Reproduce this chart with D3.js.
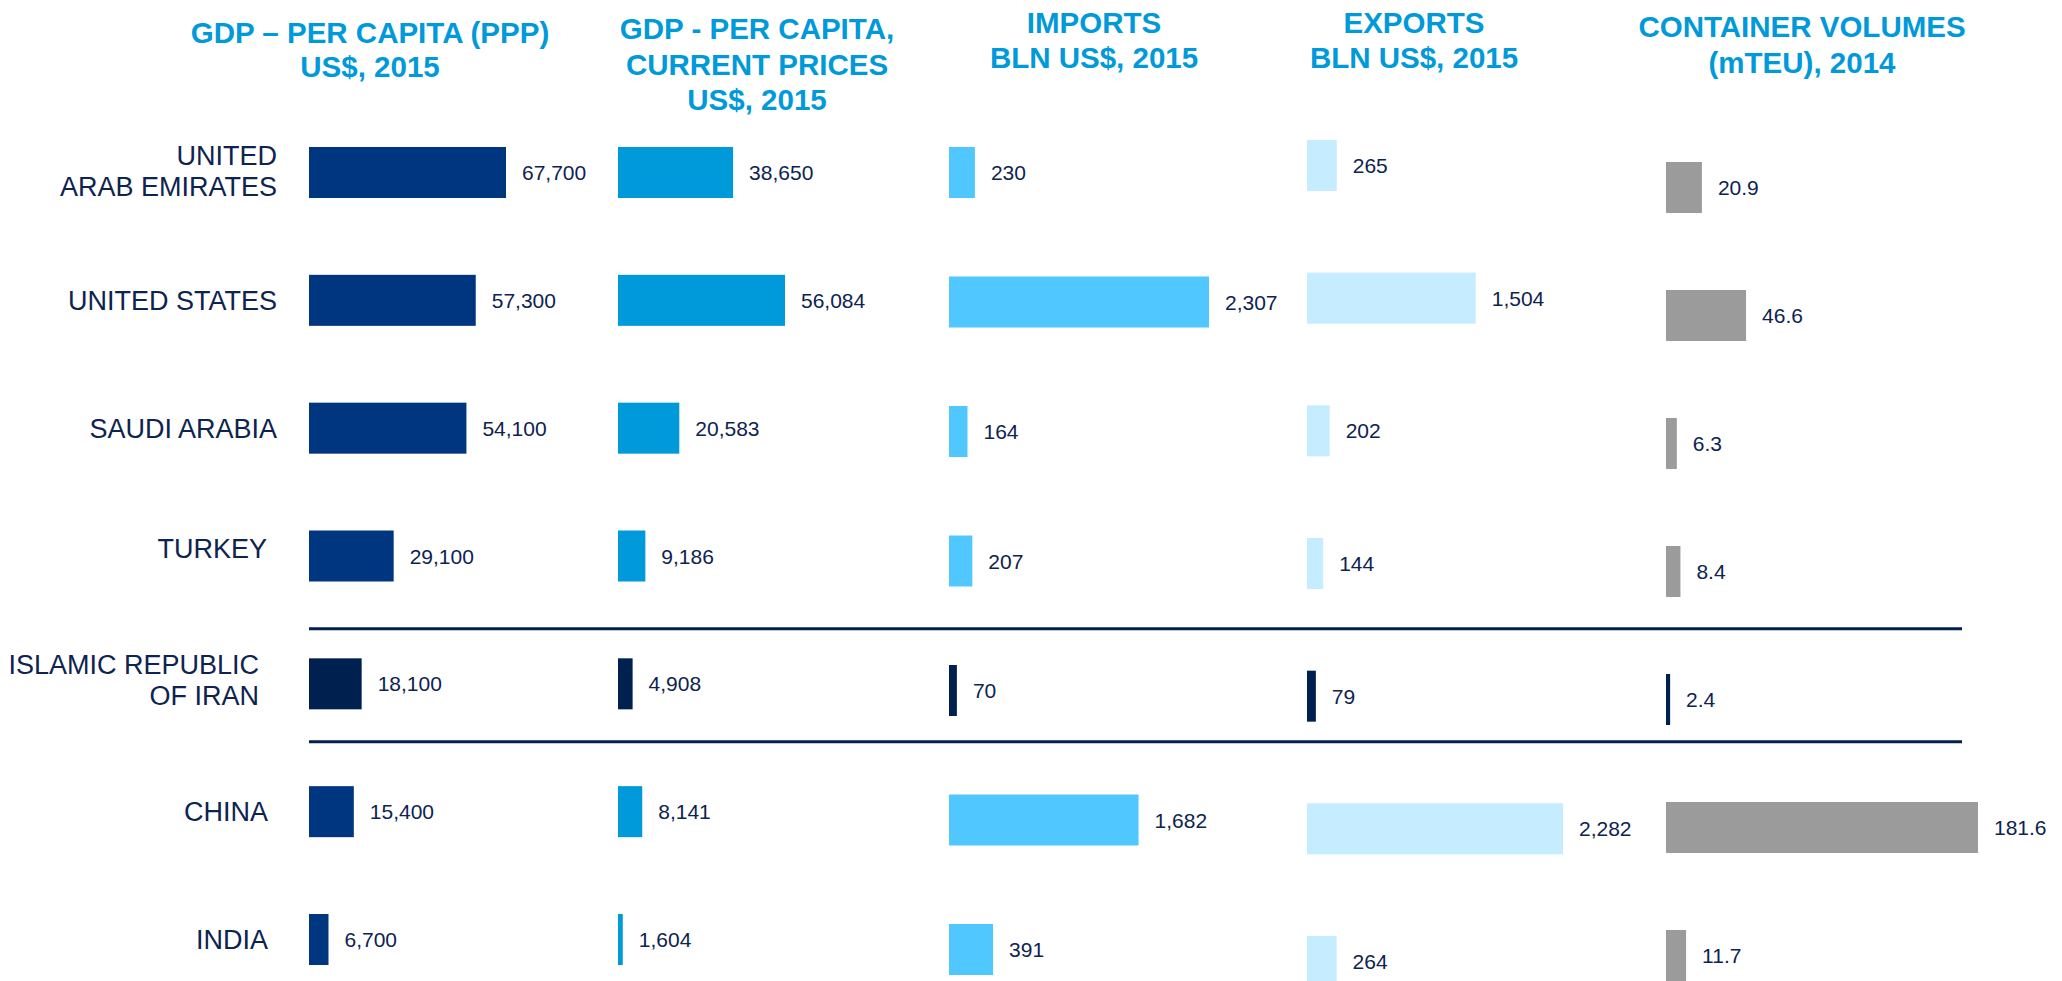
<!DOCTYPE html>
<html>
<head>
<meta charset="utf-8">
<script src="https://cdn.jsdelivr.net/npm/d3@7/dist/d3.min.js"></script>
<style>
  html, body { margin: 0; padding: 0; background: #ffffff; }
  svg { display: block; }
  text { font-family: "Liberation Sans", Arial, sans-serif; }
</style>
</head>
<body>
<svg id="chart" width="2062" height="981"></svg>
<script>
// ---- data ----
const countries = [
  ["UNITED", "ARAB EMIRATES"],
  ["UNITED STATES"],
  ["SAUDI ARABIA"],
  ["TURKEY"],
  ["ISLAMIC REPUBLIC", "OF IRAN"],
  ["CHINA"],
  ["INDIA"]
];
const gdpPpp     = [67700, 57300, 54100, 29100, 18100, 15400, 6700];
const gdpCurrent = [38650, 56084, 20583, 9186, 4908, 8141, 1604];
const imports    = [230, 2307, 164, 207, 70, 1682, 391];
const exports    = [265, 1504, 202, 144, 79, 2282, 264];
const containers = [20.9, 46.6, 6.3, 8.4, 2.4, 181.6, 11.7];

const titles = [
  ["GDP \u2013 PER CAPITA (PPP)", "US$, 2015"],
  ["GDP - PER CAPITA,", "CURRENT PRICES", "US$, 2015"],
  ["IMPORTS", "BLN US$, 2015"],
  ["EXPORTS", "BLN US$, 2015"],
  ["CONTAINER VOLUMES", "(mTEU), 2014"]
];
const highlightCountry = 4; // Iran

// ---- layout ----
const W = 2062, H = 981;
const barH = 51;
const labelGap = 16;
const textColor = "#0d2350";
const titleColor = "#0099da";
const highlightColor = "#00214f";

const columns = [
  { values: gdpPpp,     fmt: d3.format(","),   x0: 309,  maxW: 197, top: [147, 914], color: "#003580", titleX: 370,  titleY: [43, 77] },
  { values: gdpCurrent, fmt: d3.format(","),   x0: 618,  maxW: 167, top: [147, 914], color: "#0099da", titleX: 757,  titleY: [39, 75, 110] },
  { values: imports,    fmt: d3.format(","),   x0: 949,  maxW: 260, top: [147, 924], color: "#50c8ff", titleX: 1094, titleY: [33, 68] },
  { values: exports,    fmt: d3.format(","),   x0: 1307, maxW: 256, top: [140, 936], color: "#c6ecff", titleX: 1414, titleY: [33, 68] },
  { values: containers, fmt: d3.format(".1f"), x0: 1666, maxW: 312, top: [162, 930], color: "#9b9b9b", titleX: 1802, titleY: [37, 73] }
];

const labelRight = [277, 277, 277, 267, 259, 268, 268];
const labelNudgeY = [-2, 0, 0, -8, -4, 0, 0];

const svg = d3.select("#chart");
svg.append("rect").attr("width", W).attr("height", H).attr("fill", "#ffffff");

const idx = d3.range(countries.length);

// row positions of the first column drive the country labels
const rowY0 = d3.scalePoint().domain(idx).range(columns[0].top);

// separators around the highlighted country
const sepY = [rowY0(highlightCountry) + barH / 2 - 55, rowY0(highlightCountry) + barH / 2 + 58];
svg.selectAll("line.sep").data(sepY).join("line")
  .attr("class", "sep")
  .attr("x1", 309).attr("x2", 1962)
  .attr("y1", d => d).attr("y2", d => d)
  .attr("stroke", highlightColor).attr("stroke-width", 3);

// country labels
const lab = svg.selectAll("text.country").data(idx).join("text")
  .attr("class", "country")
  .attr("text-anchor", "end")
  .attr("fill", textColor)
  .attr("font-size", 27);
lab.each(function(i) {
  const lines = countries[i];
  const cy = rowY0(i) + barH / 2 + labelNudgeY[i];
  const lh = 31;
  d3.select(this).selectAll("tspan").data(lines).join("tspan")
    .attr("x", labelRight[i])
    .attr("y", (d, k) => cy + (k - (lines.length - 1) / 2) * lh)
    .attr("dy", "0.36em")
    .text(d => d);
});

// columns
columns.forEach((col, ci) => {
  const g = svg.append("g");
  const x = d3.scaleLinear().domain([0, d3.max(col.values)]).range([0, col.maxW]);
  const y = d3.scalePoint().domain(idx).range(col.top);

  // title
  g.append("text")
    .attr("text-anchor", "middle")
    .attr("fill", titleColor)
    .attr("font-size", 29.5)
    .attr("font-weight", "bold")
    .selectAll("tspan").data(titles[ci]).join("tspan")
      .attr("x", col.titleX)
      .attr("y", (d, k) => col.titleY[k])
      .text(d => d);

  // bars
  g.selectAll("rect.bar").data(idx).join("rect")
    .attr("class", "bar")
    .attr("x", col.x0)
    .attr("y", i => y(i))
    .attr("width", i => Math.max(2.5, x(col.values[i])))
    .attr("height", barH)
    .attr("fill", i => i === highlightCountry ? highlightColor : col.color);

  // value labels
  g.selectAll("text.val").data(idx).join("text")
    .attr("class", "val")
    .attr("x", i => col.x0 + Math.max(2.5, x(col.values[i])) + labelGap)
    .attr("y", i => y(i) + barH / 2)
    .attr("dy", "0.36em")
    .attr("fill", textColor)
    .attr("font-size", 21)
    .text(i => col.fmt(col.values[i]));
});
</script>
</body>
</html>
